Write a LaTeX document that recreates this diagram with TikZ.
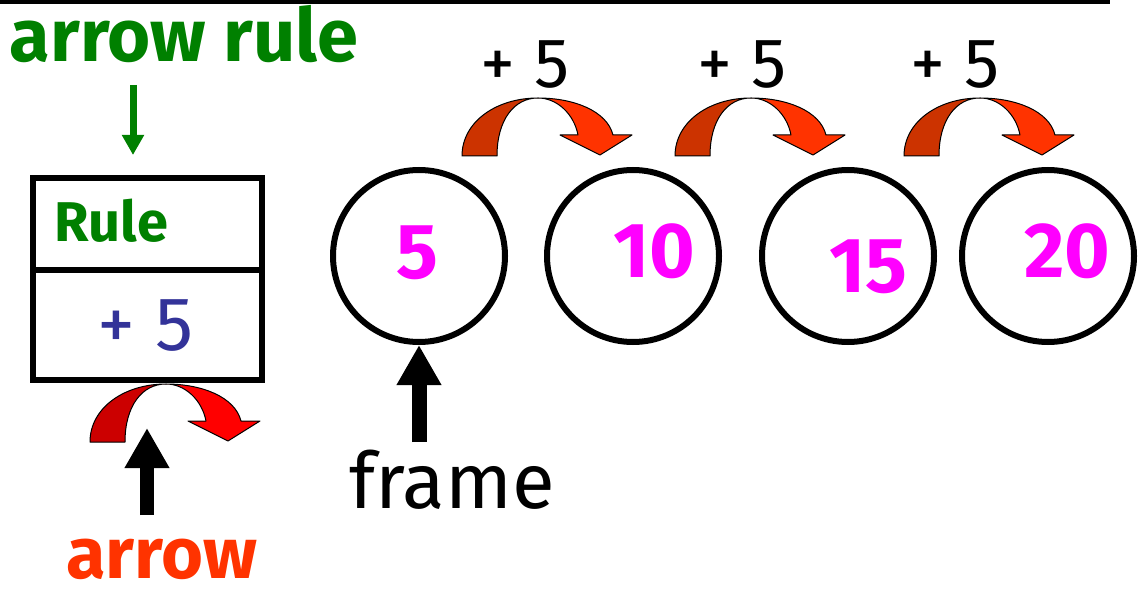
\documentclass[tikz,border=0pt]{standalone}
\usepackage{fontspec}
\setmainfont{Fira Sans}
\usetikzlibrary{arrows.meta}
\definecolor{rulegreen}{HTML}{008000}
\definecolor{ruleblue}{HTML}{333399}
\definecolor{nummag}{HTML}{FF00FF}
\definecolor{arrorange}{HTML}{FF3300}
\definecolor{arrdarkorange}{HTML}{CC3300}
\definecolor{arrred}{HTML}{FF0000}
\definecolor{arrdarkred}{HTML}{CC0000}
\newcommand\rsCurvArrow[4]{%
  \begin{scope}[shift={(#1,#2)},yscale=-1]
    \filldraw[fill=#3,draw=black,line width=1,line join=round]
      (0,0) .. controls (0,34) and (34,58) .. (76,58)
      .. controls (52,58) and (35,36) .. (35,0) -- cycle;
    \filldraw[fill=#4,draw=black,line width=1,line join=round]
      (76,58) .. controls (112,58) and (145,45) .. (151,21)
      -- (170,21) -- (138,1) -- (98,21) -- (116,21)
      .. controls (112,42) and (95,58) .. (76,58) -- cycle;
  \end{scope}}
\begin{document}
\begin{tikzpicture}[x=1pt,y=-1pt,
  every node/.append style={inner sep=1pt},
  ring/.style={circle,draw=black,line width=6,minimum size=172,inner sep=0},
  cell/.style={rectangle,draw=black,line width=6,minimum width=229,inner sep=0},
  numtxt/.style={anchor=base,text=nummag,font=\fontsize{78}{80}\selectfont\bfseries},
  steptxt/.style={anchor=base,text=black,font=\fontsize{70}{72}\selectfont},
  garrow/.style={draw=rulegreen,line width=7,-{Triangle[length=20,width=21]}},
  barrow/.style={draw=black,line width=15,-{Triangle[length=40,width=42]}}]
\useasboundingbox (0,0) rectangle (1138,596);
\fill[white] (0,0) rectangle (1138,596);
% top rule line
\draw[line width=4] (0,2) -- (1110,2);
% arrow rule label and arrow
\node[anchor=base,text=rulegreen,font=\fontsize{74}{76}\selectfont\bfseries] (arrowrulelbl) at (184,62) {arrow rule};
\coordinate (gtop) at (133,85);
\coordinate (gtip) at (133,155);
\draw[garrow] (gtop) -- (gtip);
% rule box
\node[cell,minimum height=92] (rulehead) at (147.5,224) {};
\node[cell,minimum height=110] (rulebody) at (147.5,325) {};
\node[anchor=base west,text=rulegreen,font=\fontsize{56}{58}\selectfont\bfseries] (rulelbl) at (53,242) {Rule};
\node[anchor=base,text=ruleblue,font=\fontsize{76}{78}\selectfont] (rulestep) at (146,350) {+ 5};
% curved arrow under box
\rsCurvArrow{90}{442}{arrdarkred}{arrred}
\coordinate (abase) at (147,515);
\coordinate (atip) at (147,428);
\draw[barrow,line width=14] (abase) -- (atip);
\node[anchor=base,text=arrorange,font=\fontsize{72}{74}\selectfont\bfseries] (arrowlbl) at (162,578) {arrow};
% circles
\node[ring] (c1) at (419,256) {};
\node[ring] (c2) at (633,256) {};
\node[ring] (c3) at (848,256) {};
\node[ring] (c4) at (1048,256) {};
\node[numtxt] (n1) at (417,278) {5};
\node[numtxt] (n2) at (654,277) {10};
\node[numtxt] (n3) at (868,292) {15};
\node[numtxt] (n4) at (1067,277) {20};
% curved arrows above
\rsCurvArrow{462}{156}{arrdarkorange}{arrorange}
\rsCurvArrow{675}{156}{arrdarkorange}{arrorange}
\rsCurvArrow{904}{156}{arrdarkorange}{arrorange}
\node[steptxt] (s1) at (525,88) {+ 5};
\node[steptxt] (s2) at (742,88) {+ 5};
\node[steptxt] (s3) at (955,88) {+ 5};
% frame arrow and label
\coordinate (fbase) at (419,442);
\draw[barrow] (fbase) -- (c1.south);
\node[anchor=base,text=black,font=\fontsize{78}{80}\selectfont] (framelbl) at (452,508) {frame};
\end{tikzpicture}
\end{document}
